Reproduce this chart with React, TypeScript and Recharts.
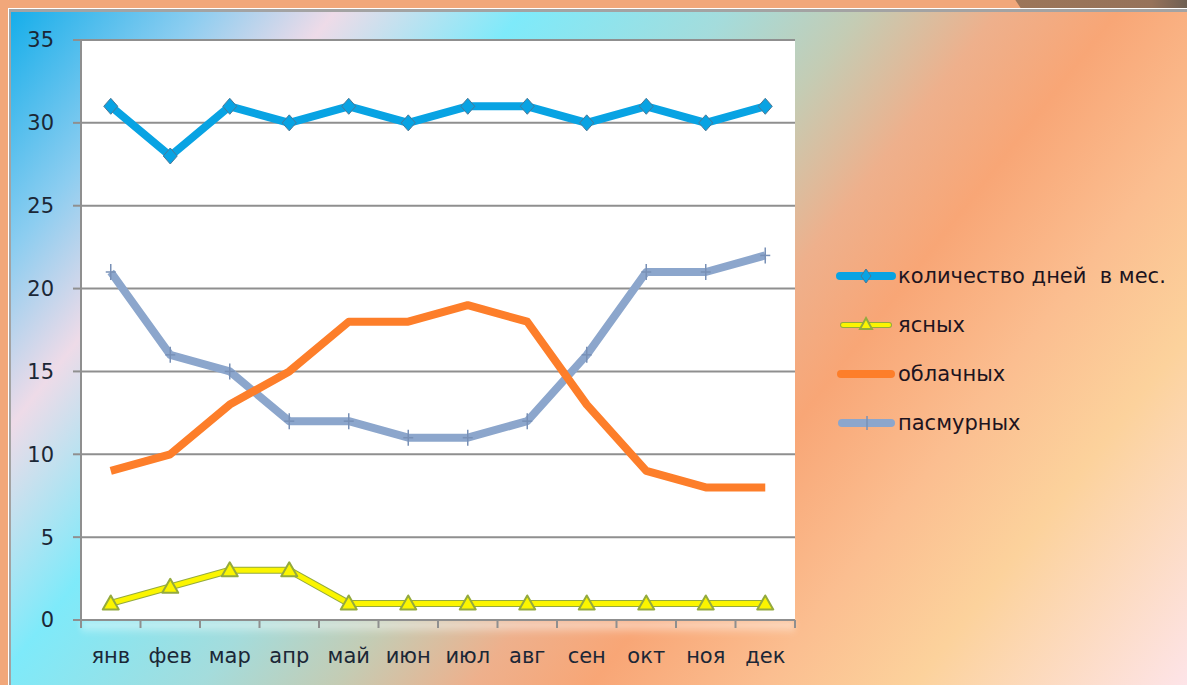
import { LineChart, Line, XAxis, YAxis, CartesianGrid } from 'recharts';

const months = ['янв', 'фев', 'мар', 'апр', 'май', 'июн', 'июл', 'авг', 'сен', 'окт', 'ноя', 'дек'];
const totalDays = [31, 28, 31, 30, 31, 30, 31, 31, 30, 31, 30, 31];
const clearDays = [1, 2, 3, 3, 1, 1, 1, 1, 1, 1, 1, 1];
const cloudyDays = [9, 10, 13, 15, 18, 18, 19, 18, 13, 9, 8, 8];
const overcastDays = [21, 16, 15, 12, 12, 11, 11, 12, 16, 21, 21, 22];
const yTicks = [0, 5, 10, 15, 20, 25, 30, 35];

const seriesNames = ['количество дней  в мес.', 'ясных', 'облачных', 'пасмурных'];

const data = months.map((month, i) => ({
  month,
  total: totalDays[i],
  clear: clearDays[i],
  cloudy: cloudyDays[i],
  overcast: overcastDays[i],
}));

const W = 1187;
const H = 685;
const PLOT_LEFT = 81;
const PLOT_RIGHT = 795;
const HALF_BAND = (PLOT_RIGHT - PLOT_LEFT) / months.length / 2;

const FONT = '"DejaVu Sans", Verdana, sans-serif';
const AXIS_GRAY = '#8f8f8f';
const TEXT = '#1b2736';

const BLUE = '#08a3e3';
const YELLOW = '#fbf500';
const OLIVE = '#94aa3e';
const ORANGE = '#fd7e2a';
const STEEL = '#8ca6cc';

function MonthTick(props: any) {
  const { x, y, payload, index } = props;
  return (
    <g>
      <line x1={x - HALF_BAND} y1={y} x2={x - HALF_BAND} y2={y + 8} stroke={AXIS_GRAY} strokeWidth={2} />
      {index === months.length - 1 && (
        <line x1={x + HALF_BAND} y1={y} x2={x + HALF_BAND} y2={y + 8} stroke={AXIS_GRAY} strokeWidth={2} />
      )}
      <text x={x} y={y + 43} textAnchor="middle" fontFamily={FONT} fontSize={21} fill={TEXT}>
        {payload.value}
      </text>
    </g>
  );
}

function Diamond(props: any) {
  const { cx, cy, index } = props;
  if (cx == null || cy == null) return <g key={index} />;
  return (
    <path
      key={index}
      d={`M${cx} ${cy - 8}L${cx + 7} ${cy}L${cx} ${cy + 8}L${cx - 7} ${cy}Z`}
      fill={BLUE}
      stroke="#4b7896"
      strokeWidth={1}
    />
  );
}

function Triangle(props: any) {
  const { cx, cy, index } = props;
  if (cx == null || cy == null) return <g key={index} />;
  return (
    <path
      key={index}
      d={`M${cx} ${cy - 8}L${cx + 8} ${cy + 6}L${cx - 8} ${cy + 6}Z`}
      fill={YELLOW}
      stroke={OLIVE}
      strokeWidth={2}
      strokeLinejoin="round"
    />
  );
}

function Cross(props: any) {
  const { cx, cy, index } = props;
  if (cx == null || cy == null) return <g key={index} />;
  return (
    <g key={index}>
      <line x1={cx} y1={cy - 8} x2={cx} y2={cy + 8} stroke="#7890b6" strokeWidth={1.5} />
      <line x1={cx - 5} y1={cy} x2={cx + 5} y2={cy} stroke="#7890b6" strokeWidth={1.5} />
    </g>
  );
}

function LegendSample({ i }: { i: number }) {
  return (
    <svg width={60} height={20} style={{ display: 'block' }}>
      {i === 0 && (
        <>
          <line x1={4} y1={10} x2={56} y2={10} stroke={BLUE} strokeWidth={8} strokeLinecap="round" />
          <path d="M30 3L35 10L30 17L25 10Z" fill={BLUE} stroke="#4b7896" strokeWidth={1} />
        </>
      )}
      {i === 1 && (
        <>
          <line x1={7} y1={10} x2={53} y2={10} stroke={OLIVE} strokeWidth={6} strokeLinecap="round" />
          <line x1={7} y1={10} x2={53} y2={10} stroke={YELLOW} strokeWidth={4} strokeLinecap="round" />
          <path d="M30 3L36 14L24 14Z" fill={YELLOW} stroke={OLIVE} strokeWidth={2} />
        </>
      )}
      {i === 2 && <line x1={5} y1={10} x2={55} y2={10} stroke={ORANGE} strokeWidth={8} strokeLinecap="round" />}
      {i === 3 && (
        <>
          <line x1={6} y1={10} x2={55} y2={10} stroke={STEEL} strokeWidth={8} strokeLinecap="round" />
          <line x1={31} y1={3} x2={31} y2={17} stroke="#7890b6" strokeWidth={1.5} />
        </>
      )}
    </svg>
  );
}

export default function App() {
  return (
    <div style={{ position: 'relative', width: W, height: H, overflow: 'hidden', background: '#f1a77a' }}>
      <style>{'body{margin:0}'}</style>
      <div
        style={{
          position: 'absolute',
          left: 1010,
          top: 0,
          width: 177,
          height: 8,
          background: 'linear-gradient(90deg, #9c7659 0%, #96725a 80%, #6e5f52 100%)',
          clipPath: 'polygon(3% 0, 100% 0, 100% 100%, 6% 100%)',
        }}
      />
      <div
        style={{
          position: 'absolute',
          left: 8,
          top: 8,
          right: 0,
          bottom: 0,
          borderTop: '1px solid #ffffff',
          borderLeft: '1px solid #ffffff',
        }}
      >
        <div
          style={{
            position: 'absolute',
            inset: 0,
            borderTop: '3px solid #a3a3a3',
            borderLeft: '2px solid #a3a3a3',
            background:
              'linear-gradient(128deg, #16aeea 0%, #8ccdf0 11%, #eedbe8 19%, #7eeafa 30%, #a4dcdc 42%, #c4ccb4 50%, #eeb08c 58%, #f8a676 65%, #fbbe90 75%, #fcd29c 84%, #fde4e8 100%)',
          }}
        />
      </div>
      <div
        style={{
          position: 'absolute',
          left: PLOT_LEFT,
          top: 621,
          width: PLOT_RIGHT - PLOT_LEFT,
          height: 14,
          background: 'linear-gradient(180deg, rgba(255,255,255,0.6), rgba(255,255,255,0))',
          filter: 'blur(3px)',
        }}
      />
      <div style={{ position: 'absolute', left: 0, top: 0 }}>
        <LineChart width={W} height={H} data={data} margin={{ top: 40, right: W - PLOT_RIGHT, bottom: 25, left: 21 }}>
          <CartesianGrid vertical={false} fill="#ffffff" stroke={AXIS_GRAY} strokeWidth={2} />
          <XAxis
            dataKey="month"
            height={40}
            padding={{ left: HALF_BAND, right: HALF_BAND }}
            axisLine={{ stroke: AXIS_GRAY, strokeWidth: 2 }}
            tickLine={false}
            tickSize={0}
            tickMargin={0}
            interval={0}
            tick={<MonthTick />}
          />
          <YAxis
            width={60}
            domain={[0, 35]}
            ticks={yTicks}
            interval={0}
            axisLine={{ stroke: AXIS_GRAY, strokeWidth: 2 }}
            tickLine={{ stroke: AXIS_GRAY, strokeWidth: 2 }}
            tickSize={8}
            tickMargin={19}
            tick={{ fontFamily: FONT, fontSize: 21, fill: TEXT }}
          />
          <Line
            dataKey="total"
            stroke={BLUE}
            strokeWidth={8}
            strokeLinejoin="round"
            dot={Diamond}
            activeDot={false}
            isAnimationActive={false}
          />
          <Line dataKey="clear" stroke={OLIVE} strokeWidth={7} dot={false} activeDot={false} isAnimationActive={false} />
          <Line
            dataKey="clear"
            stroke={YELLOW}
            strokeWidth={5}
            dot={Triangle}
            activeDot={false}
            isAnimationActive={false}
          />
          <Line
            dataKey="overcast"
            stroke={STEEL}
            strokeWidth={8}
            strokeLinejoin="round"
            dot={Cross}
            activeDot={false}
            isAnimationActive={false}
          />
          <Line
            dataKey="cloudy"
            stroke={ORANGE}
            strokeWidth={8}
            strokeLinejoin="round"
            dot={false}
            activeDot={false}
            isAnimationActive={false}
          />
        </LineChart>
      </div>
      <div style={{ position: 'absolute', left: 836, top: 251, fontFamily: FONT, fontSize: 21, color: '#1d1420' }}>
        {seriesNames.map((name, i) => (
          <div key={name} style={{ display: 'flex', alignItems: 'center', height: 49 }}>
            <LegendSample i={i} />
            <span style={{ marginLeft: 2, whiteSpace: 'pre', lineHeight: '24px' }}>{name}</span>
          </div>
        ))}
      </div>
    </div>
  );
}
